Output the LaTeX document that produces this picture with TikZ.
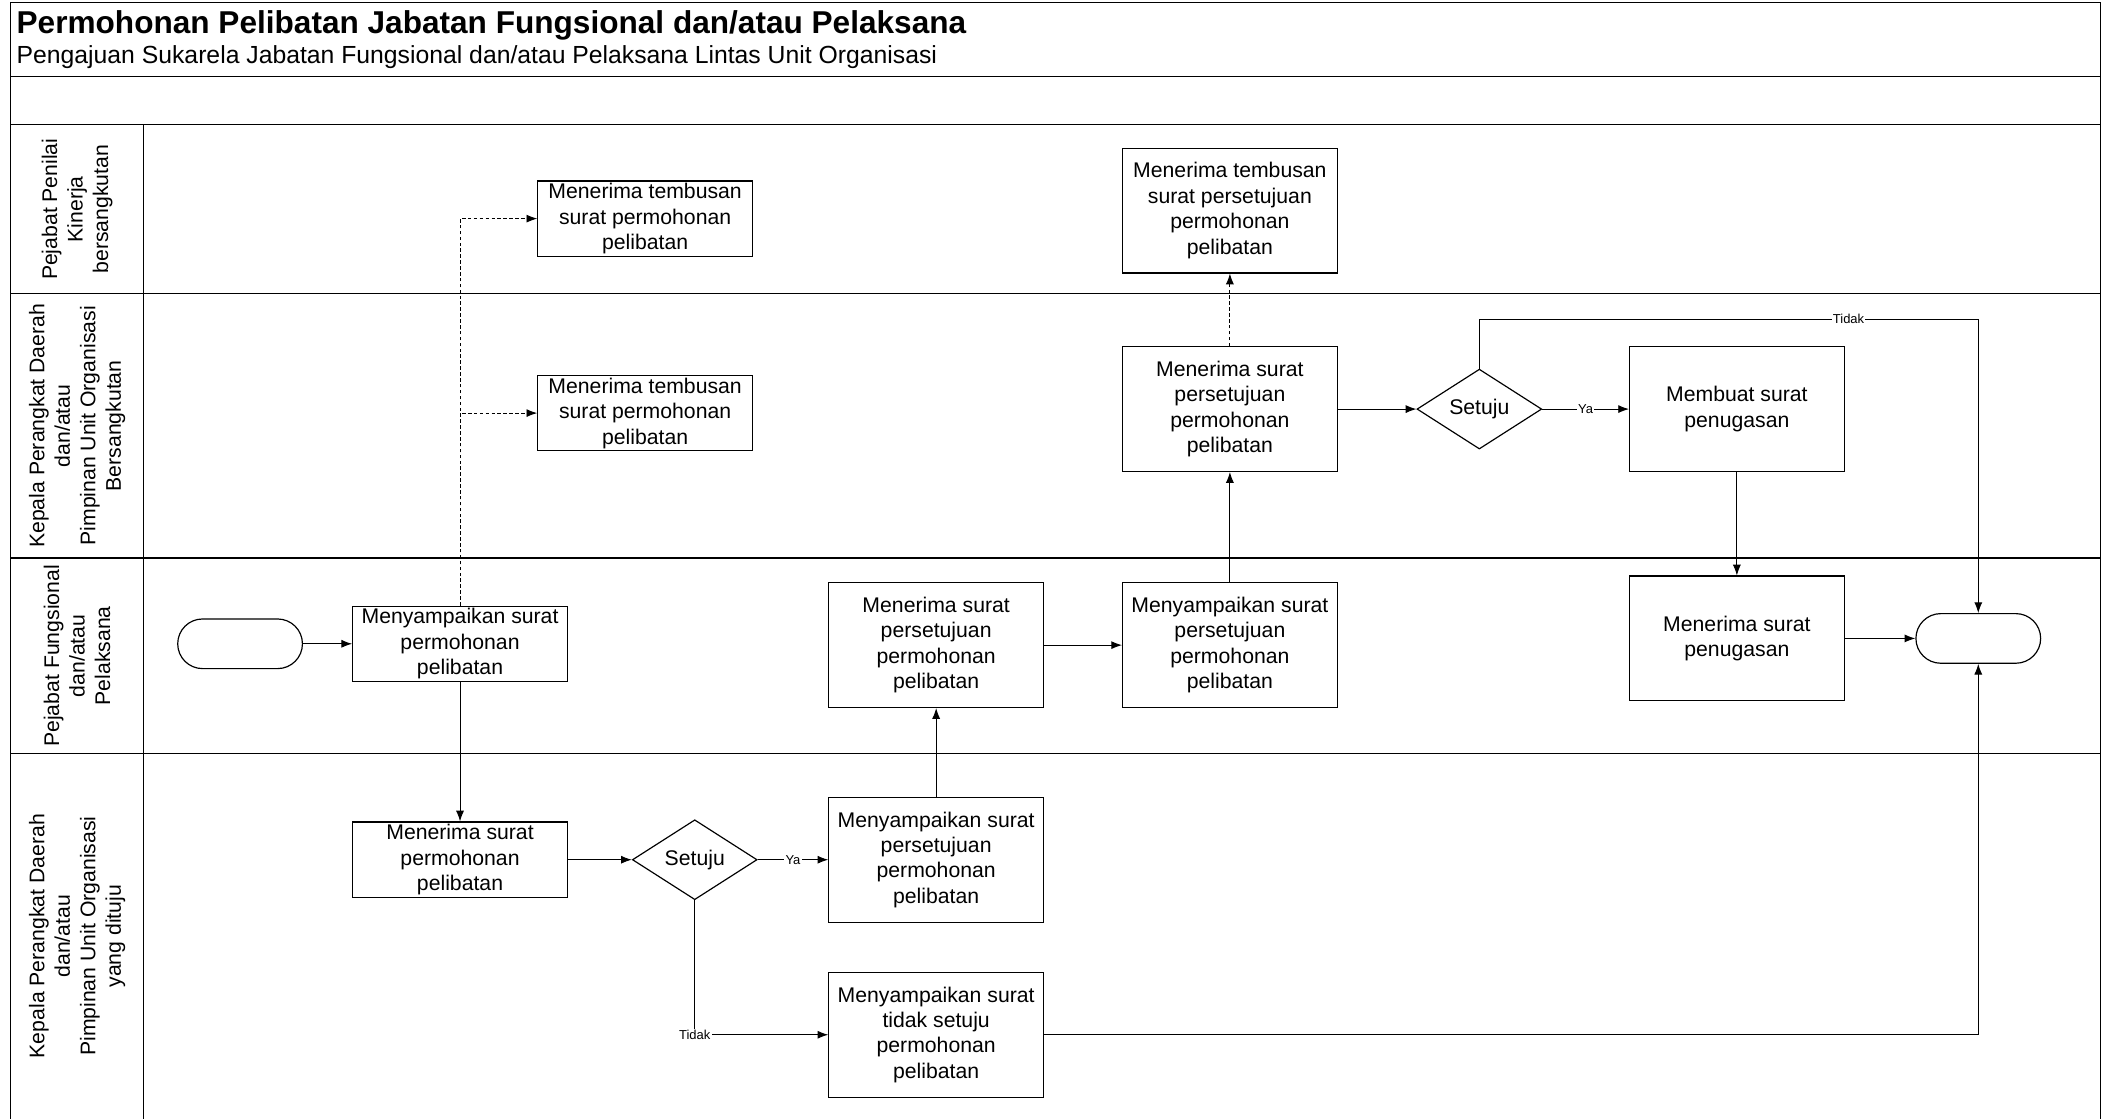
\documentclass[tikz,border=0pt]{standalone}
\usepackage{fontspec}
\setmainfont{Liberation Sans}
\usetikzlibrary{shapes.geometric,arrows.meta}
\tikzset{
	box/.style={draw,align=center,minimum width=3.2cm,minimum height=1.1cm,inner sep=1pt,font=\fontsize{9}{10.8}\selectfont},
	bigbox/.style={box,minimum height=1.86cm},
	term/.style={draw,rounded corners=3.7mm,minimum width=1.86cm,minimum height=0.74cm},
	choice/.style={draw,diamond,minimum width=1.86cm,minimum height=1.1cm,inner sep=0pt,font=\fontsize{9}{10.8}\selectfont},
	lane/.style={rotate=90,align=center,font=\fontsize{9}{10.8}\selectfont},
	arr/.style={-{Latex[length=1.6mm,width=1.2mm]},line width=0.4pt},
	dot/.style={arr,dash pattern=on 1.5pt off 1pt},
	lbl/.style={fill=white,inner sep=0.5pt,font=\fontsize{5.5}{6}\selectfont}
}
\begin{document}
\begin{tikzpicture}[line width=0.5pt]
	\useasboundingbox (0,0) rectangle (31.36,-16.68);
	\draw (0.16,-16.68) -- (0.16,-0.04) -- (31.32,-0.04) -- (31.32,-16.68);
	\foreach \y in {1.14,1.86,4.38,8.32,11.24}
		\draw (0.16,-\y) -- (31.32,-\y);
	\draw (2.14,-1.86) -- (2.14,-16.68);
	\node[anchor=base west,font=\fontsize{13.4}{16}\selectfont\bfseries,inner sep=0pt] (T) at (0.24,-0.5) {Permohonan Pelibatan Jabatan Fungsional dan/atau Pelaksana};
	\node[anchor=base west,font=\fontsize{10.5}{12}\selectfont,inner sep=0pt] (U) at (0.24,-0.95) {Pengajuan Sukarela Jabatan Fungsional dan/atau Pelaksana Lintas Unit Organisasi};
	\node[lane] (L1) at (1.15,-3.12) {Pejabat Penilai\\Kinerja\\bersangkutan};
	\node[lane] (L2) at (1.15,-6.35) {Kepala Perangkat Daerah\\dan/atau\\Pimpinan Unit Organisasi\\Bersangkutan};
	\node[lane] (L3) at (1.15,-9.78) {Pejabat Fungsional\\dan/atau\\Pelaksana};
	\node[lane] (L4) at (1.15,-13.96) {Kepala Perangkat Daerah\\dan/atau\\Pimpinan Unit Organisasi\\yang dituju};
	\node[term] (S) at (3.58,-9.6) {};
	\node[box,minimum height=1.12cm] (A) at (6.86,-9.6) {Menyampaikan surat\\permohonan\\pelibatan};
	\node[box] (B) at (9.62,-3.26) {Menerima tembusan\\surat permohonan\\pelibatan};
	\node[box] (C) at (9.62,-6.16) {Menerima tembusan\\surat permohonan\\pelibatan};
	\node[box,minimum height=1.08cm] (D) at (6.86,-12.82) {Menerima surat\\permohonan\\pelibatan};
	\node[choice] (E) at (10.36,-12.82) {Setuju};
	\node[bigbox] (F) at (13.96,-12.82) {Menyampaikan surat\\persetujuan\\permohonan\\pelibatan};
	\node[bigbox] (G) at (13.96,-15.43) {Menyampaikan surat\\tidak setuju\\permohonan\\pelibatan};
	\node[bigbox] (H) at (13.96,-9.62) {Menerima surat\\persetujuan\\permohonan\\pelibatan};
	\node[bigbox] (I) at (18.34,-9.62) {Menyampaikan surat\\persetujuan\\permohonan\\pelibatan};
	\node[bigbox] (J) at (18.34,-6.1) {Menerima surat\\persetujuan\\permohonan\\pelibatan};
	\node[bigbox] (K) at (18.34,-3.14) {Menerima tembusan\\surat persetujuan\\permohonan\\pelibatan};
	\node[choice] (L) at (22.06,-6.1) {Setuju};
	\node[bigbox] (M) at (25.9,-6.1) {Membuat surat\\penugasan};
	\node[bigbox] (N) at (25.9,-9.52) {Menerima surat\\penugasan};
	\node[term] (O) at (29.5,-9.52) {};
	\coordinate (Q) at (29.5,-4.76);
	\draw[arr] (S) -- (A);
	\draw[dot] (A.north) |- (B.west);
	\draw[dot] (A.north) |- (C.west);
	\draw[arr] (A) -- (D);
	\draw[arr] (D) -- (E);
	\draw[arr] (E) -- node[lbl] {Ya} (F);
	\draw[arr] (E.south) |- node[lbl] {Tidak} (G.west);
	\draw[arr] (F) -- (H);
	\draw[arr] (H) -- (I);
	\draw[arr] (I) -- (J);
	\draw[dot] (J) -- (K);
	\draw[arr] (J) -- (L);
	\draw[arr] (L) -- node[lbl] {Ya} (M);
	\draw[arr] (M) -- (N);
	\draw[arr] (N) -- (O);
	\draw[arr] (L.north) |- node[lbl,pos=0.87] {Tidak} (Q) -- (O.north);
	\draw[arr] (G.east) -| (O.south);
\end{tikzpicture}
\end{document}
